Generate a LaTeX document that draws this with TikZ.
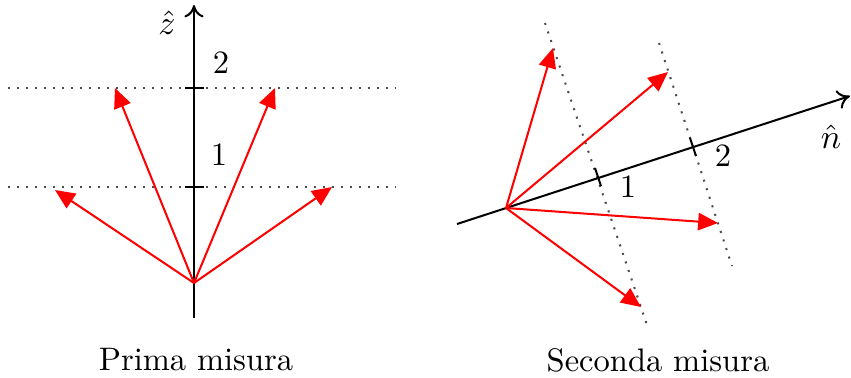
\documentclass[tikz,border=0pt]{standalone}
\usetikzlibrary{arrows.meta}
\begin{document}
\begin{tikzpicture}[x=0.3226pt,y=-0.3226pt,
  axis/.style={line width=0.65pt,black},
  axisarrow/.style={axis,-{To[length=4pt,width=6.2pt]}},
  vec/.style={red,line width=0.65pt,-{Triangle[length=6.4pt,width=5.6pt]}},
  guide/.style={black!70,line width=0.65pt,dash pattern=on 0.65pt off 2.25pt},
  tick/.style={line width=0.65pt,black},
  lbl/.style={inner sep=0pt,font=\fontsize{10.5}{12}\selectfont}]
\useasboundingbox (0,0) rectangle (851,377);
% ---------- left ----------
\coordinate (zb) at (194,318);
\coordinate (zt) at (194,5);
\coordinate (O1) at (194,283);
\coordinate (g1a) at (8,187);  \coordinate (g1b) at (395,187);
\coordinate (g2a) at (8,88);   \coordinate (g2b) at (395,88);
\draw[guide] (g1a) -- (g1b);
\draw[guide] (g2a) -- (g2b);
\draw[axisarrow] (zb) -- (zt);
\coordinate (t1a) at (185,187); \coordinate (t1b) at (204,187);
\coordinate (t2a) at (185,88);  \coordinate (t2b) at (204,88);
\draw[tick] (t1a) -- (t1b);
\draw[tick] (t2a) -- (t2b);
\coordinate (a1) at (55,190);
\coordinate (a2) at (115,88);
\coordinate (a3) at (275,88);
\coordinate (a4) at (332,187);
\draw[vec] (O1) -- (a1);
\draw[vec] (O1) -- (a2);
\draw[vec] (O1) -- (a3);
\draw[vec] (O1) -- (a4);
\node[lbl] (l1) at (219,155) {1};
\node[lbl] (l2) at (221,63) {2};
\node[lbl] (zhat) at (167,23) {$\hat{z}$};
\node[lbl] (cap1) at (196,360) {Prima misura};
% ---------- right ----------
\coordinate (nb) at (457,224);
\coordinate (nt) at (850,96);
\coordinate (O2) at (506,208);
\coordinate (h1a) at (545,23);  \coordinate (h1b) at (648,328);
\coordinate (h2a) at (659,43);  \coordinate (h2b) at (732,266);
\draw[guide] (h1a) -- (h1b);
\draw[guide] (h2a) -- (h2b);
\draw[axisarrow] (nb) -- (nt);
\coordinate (s1a) at (595,168); \coordinate (s1b) at (601,186);
\coordinate (s2a) at (690,138); \coordinate (s2b) at (696,156);
\draw[tick] (s1a) -- (s1b);
\draw[tick] (s2a) -- (s2b);
\coordinate (b1) at (553,48);
\coordinate (b2) at (668,72);
\coordinate (b3) at (718,223);
\coordinate (b4) at (641,307);
\draw[vec] (O2) -- (b1);
\draw[vec] (O2) -- (b2);
\draw[vec] (O2) -- (b3);
\draw[vec] (O2) -- (b4);
\node[lbl] (m1) at (628,187) {1};
\node[lbl] (m2) at (723,156) {2};
\node[lbl] (nhat) at (831,137) {$\hat{n}$};
\node[lbl] (cap2) at (658,360) {Seconda misura};
\end{tikzpicture}
\end{document}
